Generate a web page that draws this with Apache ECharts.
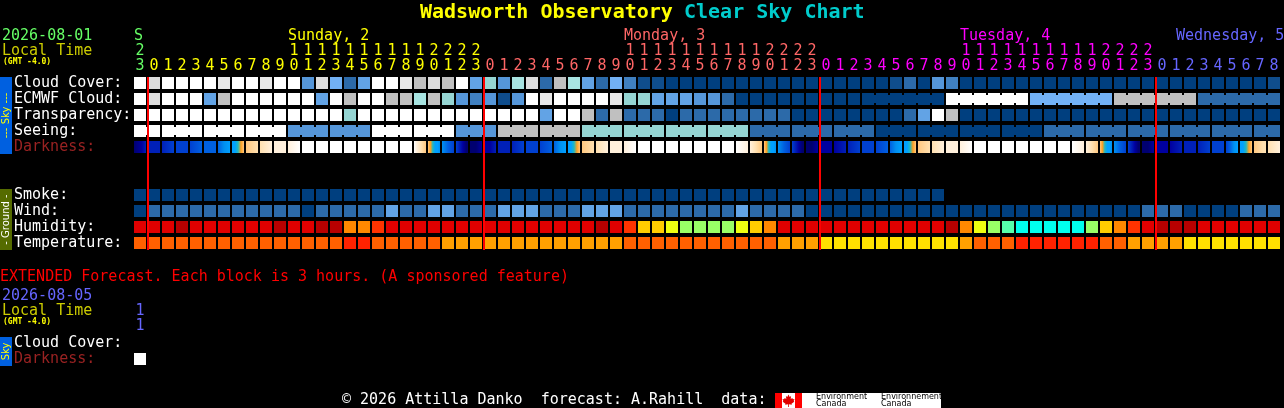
<!DOCTYPE html>
<html><head><meta charset="utf-8">
<style>html,body{margin:0;padding:0;background:#000;overflow:hidden}#c{width:1284px;height:408px}</style>
<script src="https://cdn.jsdelivr.net/npm/echarts@6/dist/echarts.min.js"></script>
</head><body><div id="c"></div>
<script>
// ---- tick labels ----
const hours = [23,0,1,2,3,4,5,6,7,8,9,10,11,12,13,14,15,16,17,18,19,20,21,22,23,0,1,2,3,4,5,6,7,8,9,10,11,12,13,14,15,16,17,18,19,20,21,22,23,0,1,2,3,4,5,6,7,8,9,10,11,12,13,14,15,16,17,18,19,20,21,22,23,0,1,2,3,4,5,6,7,8];
const dayLabels = ['S','Sunday, 2','Monday, 3','Tuesday, 4','Wednesday, 5'];
const dayLabelCols = [0,11,35,59,81];
const midnightCols = [1,25,49,73];
const rowLabels = ['Cloud Cover:','ECMWF Cloud:','Transparency:','Seeing:','Darkness:',' ','  ','Smoke:','Wind:','Humidity:','Temperature:'];
// ---- colour scales ----
const skyPalette = ['#003F7F','#0F4D8C','#2C6AA9','#4080C0','#5596D9','#62A3E5','#72B1F5','#95D5D3','#A8E4E2','#C0C0C0','#DDDDDD','#E8E8E8','#FFFFFF'];
const humidityPalette = ['#B80000','#E00000','#FF3300','#FF8800','#FFCC00','#EEFF11','#99FF66','#55FFAA','#00FFEE'];
const temperaturePalette = ['#FF2200','#FF6000','#FFA000','#FFE000'];
const darknessRamp = ['#000040','#000070','#0000A0','#0020B8','#0040D0','#0060E0','#0090F0','#00A0FF','#00A0FF','#20B8C0','#FFA020','#FFC880','#FFE0B0','#FFF0DC','#FFFFFF'];
// ---- series values (palette index per hour) ----
const cloudCover = [12,10,12,12,12,12,11,12,12,11,12,12,4,10,6,2,5,12,12,11,9,10,9,12,5,7,4,8,10,2,9,8,5,2,6,3,1,1,0,0,0,0,0,0,0,0,0,0,0,0,0,0,0,0,1,2,0,4,3,0,0,0,0,0,0,0,0,0,0,0,0,0,0,0,0,0,0,0,0,0,0,1];
const ecmwfCloud = [12,10,12,12,12,5,9,12,12,12,12,12,12,5,12,9,12,12,9,9,8,9,7,4,3,4,1,4,12,11,12,12,12,12,11,7,7,5,5,5,4,4,2,0,0,0,0,0,0,0,0,0,0,0,0,0,0,0,12,12,12,12,12,12,6,6,6,6,6,6,9,9,9,9,9,9,2,2,2,2,2,2];
const transparency = [12,12,12,12,12,12,12,12,12,12,12,12,12,12,12,7,12,12,12,12,12,12,12,12,12,12,12,12,12,5,12,12,9,2,9,2,2,2,0,2,2,2,2,2,2,2,2,0,0,0,0,0,0,0,0,2,5,12,9,0,0,0,0,0,0,0,0,0,0,0,0,0,0,0,0,0,0,0,0,0,0,0];
const seeing = [12,12,12,12,12,12,12,12,12,12,12,4,4,4,4,4,4,12,12,12,12,12,12,4,4,4,9,9,9,9,9,9,7,7,7,7,7,7,7,7,7,7,7,7,2,2,2,2,2,2,2,2,2,0,0,0,0,0,0,0,0,0,0,0,0,2,2,2,2,2,2,2,2,2,2,2,2,2,2,2,2,2];
const smoke = [0,0,0,0,0,0,0,0,0,0,0,0,0,0,0,0,0,0,0,0,0,0,0,0,0,0,0,0,0,0,0,0,0,0,0,0,0,0,0,0,0,0,0,0,0,0,0,0,0,0,0,0,0,0,0,0,0,0];
const wind = [0,2,2,2,2,2,2,2,2,2,2,2,0,2,2,2,2,2,5,2,2,5,5,2,2,2,5,5,5,2,2,2,5,5,5,2,2,2,2,2,2,2,2,5,2,2,2,2,0,0,0,0,0,0,0,0,0,0,0,0,0,0,0,0,0,0,0,0,0,0,0,0,2,2,2,0,0,0,0,2,2,2];
const humidity = [1,1,1,0,1,1,1,1,1,1,0,1,1,0,0,3,3,2,1,1,1,1,1,1,1,1,1,1,1,1,1,1,1,0,1,2,4,4,5,6,6,6,6,5,4,3,1,1,1,1,1,1,1,1,1,1,1,1,0,3,5,6,7,8,8,8,8,8,6,4,3,2,1,0,0,0,1,1,1,1,1,1];
const temperature = [1,1,1,1,1,1,1,1,1,1,1,1,1,1,1,0,0,1,1,1,1,1,2,2,2,2,2,2,2,2,2,2,2,2,2,1,1,1,1,1,1,1,1,1,1,1,2,2,2,3,3,3,3,3,3,3,3,3,3,2,1,1,1,0,0,0,0,0,0,1,1,2,2,2,2,3,3,3,3,3,3,3];
// darkness: position on the darkness ramp at each hour boundary (83 edges)
const darknessEdges = [1,2.5,3,3.6,4,4.5,5,7,11,12,12.6,13,13.5,14,14,14,14,14,14,14,13.6,11,6,4,0.5,1.5,2.5,3.2,3.8,4.2,5,7,11,12,12.6,13,13.5,14,14,14,14,14,14,13.6,13,11,6,4,0.5,1.5,2.2,3,3.6,4,5,7,11,12,12.6,13,13.5,14,14,14,14,14,14,13.6,13,11,6,4,0.5,1.5,2,2.5,3,3.6,4,7,11,12.3,13];
// extended forecast
const extTens = ['1'];
const extOnes = ['1'];
const extRowLabels = ['Cloud Cover:','Darkness:'];
const extDarkness = [12];

const MONO = '"DejaVu Sans Mono", monospace';
const DAY = ['#66FF66','#FFFF00','#FF6666','#FF00FF','#6666FF'];
const dayColor = c => c < 1 ? DAY[0] : c < 25 ? DAY[1] : c < 49 ? DAY[2] : c < 73 ? DAY[3] : DAY[4];
const rowColor = v => v === 'Darkness:' ? '#992222' : '#FFFFFF';

function gradientFor(a, b) {
  const col = v => darknessRamp[Math.round(v)];
  if (a === b) return col(a);
  const stops = [{offset: 0, color: col(a)}];
  const lo = Math.min(a, b), hi = Math.max(a, b);
  for (let i = Math.ceil(lo); i <= Math.floor(hi); i++) {
    if (i === lo || i === hi) continue;
    stops.push({offset: (i - a) / (b - a), color: darknessRamp[i]});
  }
  stops.push({offset: 1, color: col(b)});
  stops.sort((p, q) => p.offset - q.offset);
  return {type: 'linear', x: 0, y: 0, x2: 1, y2: 0, colorStops: stops};
}

function cellSeries(row, values, fill, join, gridIdx) {
  const g = gridIdx || 0;
  return {
    type: 'custom', xAxisIndex: g === 0 ? 0 : 2, yAxisIndex: g, coordinateSystem: 'cartesian2d', clip: false, z: 2,
    data: values.map((v, i) => [i, row, v]),
    renderItem(params, api) {
      const c = api.value(0);
      const p = api.coord([c, row]);
      const sz = api.size([1, 1]);
      const x = p[0] - sz[0] / 2 + 1, y = p[1] - sz[1] / 2 + 2;
      const f = fill(c, api.value(2));
      const children = [{type: 'rect', shape: {x, y, width: 12, height: 12}, style: {fill: f}}];
      if (join && join(c) && c + 1 < values.length) {
        children.push({type: 'rect', shape: {x: x + 12, y: y + 2, width: 2, height: 8}, style: {fill: f}});
      }
      return {type: 'group', children};
    }
  };
}
const sky = (c, v) => skyPalette[v];
const seeingJoin = c => c % 3 !== 1;
const ecmwfJoin = c => c >= 52 && (c - 52) % 6 !== 5;

const darknessSeries = cellSeries(4, darknessEdges.slice(0, 82), (c) => gradientFor(darknessEdges[c], darknessEdges[c + 1]));

const series = [
  cellSeries(0, cloudCover, sky),
  cellSeries(1, ecmwfCloud, sky, ecmwfJoin),
  cellSeries(2, transparency, sky),
  cellSeries(3, seeing, sky, seeingJoin),
  darknessSeries,
  cellSeries(7, smoke, sky),
  cellSeries(8, wind, sky),
  cellSeries(9, humidity, (c, v) => humidityPalette[v]),
  cellSeries(10, temperature, (c, v) => temperaturePalette[v]),
  cellSeries(1, extDarkness, sky, null, 1),
  { // midnight lines
    type: 'custom', xAxisIndex: 0, yAxisIndex: 0, clip: false, z: 5,
    data: midnightCols.map(c => [c]),
    renderItem(params, api) {
      const c = api.value(0);
      const top = api.coord([c, 0]), bot = api.coord([c, 10]);
      const sz = api.size([1, 1]);
      return {type: 'rect', shape: {x: top[0] - sz[0] / 2, y: top[1] - sz[1] / 2 + 2, width: 2, height: bot[1] - top[1] + sz[1] - 3}, style: {fill: '#FF0000'}};
    }
  },
  { // weekday captions
    type: 'custom', xAxisIndex: 0, yAxisIndex: 0, clip: false, z: 5,
    data: dayLabelCols.map(c => [c]),
    renderItem(params, api) {
      const c = api.value(0);
      const text = dayLabels[params.dataIndex];
      const p = api.coord([c, 0]);
      const sz = api.size([1, 1]);
      const x = Math.min(p[0] - 6, 1284 - text.length * 9);
      return {type: 'text', style: {text, x, y: p[1] - sz[1] / 2 - 39, fill: dayColor(c), font: '15px ' + MONO, verticalAlign: 'middle', align: 'left'}};
    }
  }
];

const txt = (x, y, text, fill, font) => ({type: 'text', x, y, style: {text, fill, font: font || ('15px ' + MONO), verticalAlign: 'middle', align: 'left'}, silent: true});
const bar = (y, h, w, fill, text, textFill) => ([
  {type: 'rect', shape: {x: 0, y, width: w, height: h}, style: {fill}, silent: true},
  {type: 'text', x: w / 2, y: y + h / 2, rotation: Math.PI / 2, style: {text, fill: textFill, font: '10px "DejaVu Sans"', align: 'center', verticalAlign: 'middle'}, silent: true}
]);
const leaf = [[0,-6],[1.2,-3.6],[2.6,-4.4],[2.2,-1.4],[3.8,-2.6],[4.4,-1.2],[6,-1.6],[5.2,0.6],[5.8,1.2],[3,3.2],[3.4,4.2],[0.4,3.8],[0.4,6.4],[-0.4,6.4],[-0.4,3.8],[-3.4,4.2],[-3,3.2],[-5.8,1.2],[-5.2,0.6],[-6,-1.6],[-4.4,-1.2],[-3.8,-2.6],[-2.2,-1.4],[-2.6,-4.4],[-1.2,-3.6]];

const graphicEls = [
  txt(420, 13, 'Wadsworth Observatory', '#FFFF00', 'bold 20px ' + MONO),
  txt(684, 13, 'Clear Sky Chart', '#00CCCC', 'bold 20px ' + MONO),
  txt(2, 36, '2026-08-01', '#66FF66'),
  txt(2, 51, 'Local Time', '#CCCC00'),
  txt(3, 62, '(GMT -4.0)', '#FFFF00', 'bold 8px ' + MONO),
  ...bar(77, 77, 12, '#0060E0', '--- Sky ---', '#FFFF00'),
  ...bar(189, 61, 12, '#556B00', '- Ground -', '#FFFFFF'),
  txt(0, 277, 'EXTENDED Forecast. Each block is 3 hours. (A sponsored feature)', '#FF0000'),
  txt(2, 296, '2026-08-05', '#6666FF'),
  txt(2, 311, 'Local Time', '#CCCC00'),
  txt(3, 322, '(GMT -4.0)', '#FFFF00', 'bold 8px ' + MONO),
  ...bar(337, 29, 12, '#0060E0', 'Sky', '#FFFF00'),
  txt(342, 400, '\u00A9 2026 Attilla Danko  forecast: A.Rahill  data:', '#FFFFFF'),
  {type: 'rect', shape: {x: 775, y: 393, width: 27, height: 15}, style: {fill: '#FFFFFF'}, silent: true},
  {type: 'rect', shape: {x: 775, y: 393, width: 7, height: 15}, style: {fill: '#FF0000'}, silent: true},
  {type: 'rect', shape: {x: 795, y: 393, width: 7, height: 15}, style: {fill: '#FF0000'}, silent: true},
  {type: 'polygon', x: 788.5, y: 400.5, shape: {points: leaf}, style: {fill: '#E00000'}, silent: true},
  {type: 'rect', shape: {x: 802, y: 393, width: 139, height: 15}, style: {fill: '#FFFFFF'}, silent: true},
  txt(816, 397, 'Environment', '#000000', '8px "DejaVu Sans"'),
  txt(816, 404, 'Canada', '#000000', '8px "DejaVu Sans"'),
  txt(881, 397, 'Environnement', '#000000', '8px "DejaVu Sans"'),
  txt(881, 404, 'Canada', '#000000', '8px "DejaVu Sans"')
];

const hourAxis = (data, offset, margin, colorFn, grid) => ({
  type: 'category', gridIndex: grid || 0, position: 'top', data, offset, boundaryGap: true,
  axisLine: {show: false}, axisTick: {show: false}, splitLine: {show: false},
  axisLabel: {interval: 0, margin, color: colorFn, fontFamily: MONO, fontSize: 15, hideOverlap: false, showMinLabel: true, showMaxLabel: true}
});
const rowAxis = (data, grid) => ({
  type: 'category', gridIndex: grid, inverse: true, data,
  axisLine: {show: false}, axisTick: {show: false}, splitLine: {show: false},
  axisLabel: {interval: 0, align: 'left', margin: 119, color: rowColor, fontFamily: MONO, fontSize: 15, lineHeight: 15, padding: [0, 0, 5, 0]}
});

const chart = echarts.init(document.getElementById('c'), null, {renderer: 'canvas', width: 1284, height: 408});
chart.setOption({
  animation: false,
  backgroundColor: '#000000',
  grid: [
    {left: 133, top: 75, width: 1148, height: 176},
    {left: 133, top: 335, width: 14, height: 32}
  ],
  xAxis: [
    hourAxis(hours.map(h => String(h % 10)), 0, 1, (v, i) => dayColor(i)),
    hourAxis(hours.map(h => h >= 10 ? String(Math.floor(h / 10)) : ' '), 15, 1, (v, i) => dayColor(i)),
    hourAxis(extOnes, 0, 1, () => '#6666FF', 1),
    hourAxis(extTens, 15, 1, () => '#6666FF', 1)
  ],
  yAxis: [rowAxis(rowLabels, 0), rowAxis(extRowLabels, 1)],
  series,
  graphic: {elements: graphicEls}
});
</script></body></html>
